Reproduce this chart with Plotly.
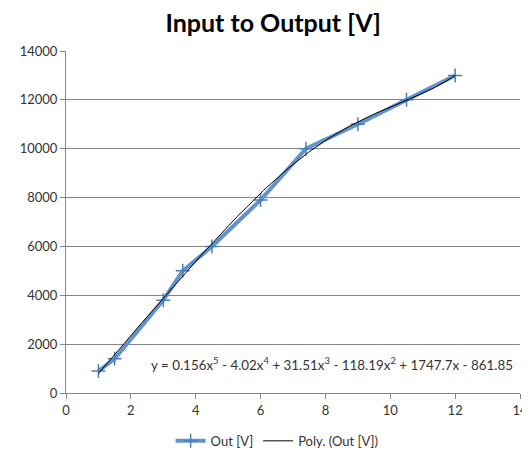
import numpy as np
import plotly.graph_objects as go

x_in = [1, 1.5, 3, 3.6, 4.5, 6, 7.4, 9, 10.5, 12]
y_out = [900, 1400, 3800, 5000, 6000, 7900, 10000, 11000, 12000, 13000]

# 5th order trendline coefficients, as printed on the chart (highest power first)
poly_coef = [0.156, -4.02, 31.51, -118.19, 1747.7, -861.85]

x_ticks = [0, 2, 4, 6, 8, 10, 12, 14]
y_ticks = [0, 2000, 4000, 6000, 8000, 10000, 12000, 14000]
y_labels = [str(v) for v in y_ticks]

FONT = "Lato"

x_fit = np.linspace(min(x_in), max(x_in), 200)
y_fit = np.polyval(poly_coef, x_fit)

fig = go.Figure()
fig.add_trace(go.Scatter(
    x=x_in, y=y_out, name="Out [V]", mode="lines+markers",
    line=dict(color="#6392CC", width=4),
    marker=dict(symbol="cross-thin", size=10, line=dict(color="#4A7EBB", width=1.5)),
))
fig.add_trace(go.Scatter(
    x=x_fit, y=y_fit, name="Poly. (Out [V])", mode="lines",
    line=dict(color="black", width=1),
))

fig.add_annotation(
    x=13.85, y=1200, xanchor="right", yanchor="middle", showarrow=False,
    text="y = 0.156x<sup>5</sup> - 4.02x<sup>4</sup> + 31.51x<sup>3</sup> - 118.19x<sup>2</sup> + 1747.7x - 861.85",
    font=dict(family=FONT, size=13.4, color="#333333"),
)

# the page body adds an 8px offset, so the figure is sized/margined to compensate
fig.update_layout(
    width=522, height=450,
    paper_bgcolor="white", plot_bgcolor="white",
    font=dict(family=FONT, size=13, color="#333333"),
    title=dict(text="<b>Input to Output [V]</b>", x=0.508, xanchor="center",
               y=0.967, yanchor="middle",
               font=dict(family=FONT, size=25, color="black")),
    margin=dict(l=58, r=10, t=43, b=65, autoexpand=False),
    showlegend=True,
    legend=dict(orientation="h", x=0.465, xanchor="center", y=-0.14, yanchor="middle",
                font=dict(family=FONT, size=13, color="#333333")),
    xaxis=dict(range=[0, 14], tickvals=x_ticks, showgrid=False, zeroline=False,
               showline=True, linecolor="#868686", linewidth=1, automargin=False,
               ticks="outside", ticklen=5, tickcolor="#868686"),
    yaxis=dict(range=[0, 14000], tickvals=y_ticks, ticktext=y_labels, showgrid=True,
               gridcolor="#868686", automargin=False,
               gridwidth=1, zeroline=False, showline=True, linecolor="#868686",
               linewidth=1, ticks="outside", ticklen=5, tickcolor="#868686"),
)

fig.write_html("out.html")
